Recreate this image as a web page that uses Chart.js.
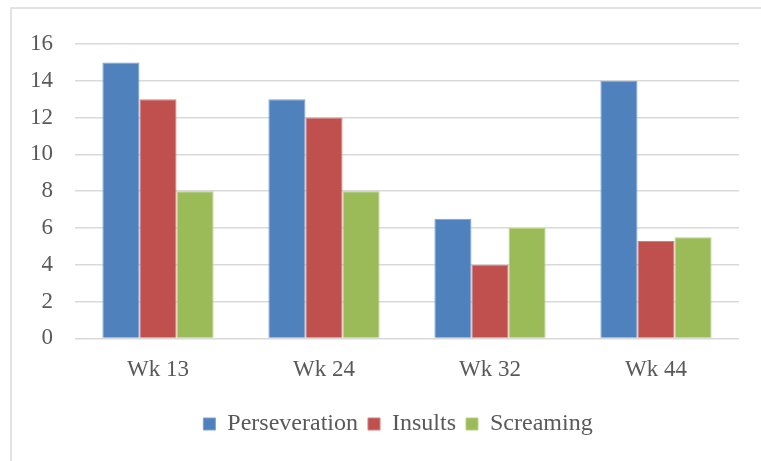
<!DOCTYPE html>
<html>
<head>
<meta charset="utf-8">
<script src="https://cdn.jsdelivr.net/npm/chart.js@4.4.0/dist/chart.umd.min.js"></script>
<style>
  html, body { margin: 0; padding: 0; background: #fff; }
  #wrap { width: 761px; height: 461px; }
</style>
</head>
<body>
<div id="wrap"><canvas id="myChart" width="761" height="461"></canvas></div>
<script>
var weeks = ['Wk 13', 'Wk 24', 'Wk 32', 'Wk 44'];
var perseveration = [15, 13, 6.5, 14];
var insults = [13, 12, 4, 5.3];
var screaming = [8, 8, 6, 5.5];
var yTicks = [0, 2, 4, 6, 8, 10, 12, 14, 16];

// light frame round the chart, like the Excel chart area
var frame = {
  id: 'frame',
  beforeDraw: function (chart) {
    var ctx = chart.ctx;
    ctx.save();
    ctx.strokeStyle = '#d9d9d9';
    ctx.lineWidth = 1.5;
    ctx.strokeRect(11, 8, 800, 500);
    ctx.restore();
  },
  // centre the legend under the plot instead of the whole canvas
  afterLayout: function (chart) {
    chart.legend.left = 57;
  }
};

Chart.defaults.font.family = "'Liberation Serif', 'Times New Roman', serif";
Chart.defaults.font.size = 23;
Chart.defaults.color = '#595959';

new Chart('myChart', {
  type: 'bar',
  data: {
    labels: weeks,
    datasets: [
      { label: 'Perseveration', data: perseveration, backgroundColor: '#4f81bd', borderColor: '#7da1d4', borderWidth: 1 },
      { label: 'Insults', data: insults, backgroundColor: '#c0504d', borderColor: '#d47e7c', borderWidth: 1 },
      { label: 'Screaming', data: screaming, backgroundColor: '#9bbb59', borderColor: '#b9d386', borderWidth: 1 }
    ]
  },
  options: {
    responsive: false,
    animation: false,
    layout: { padding: { left: 0, right: 22, top: 44, bottom: 15 } },
    datasets: { bar: { categoryPercentage: 0.67, barPercentage: 1 } },
    plugins: {
      legend: {
        position: 'bottom',
        labels: { boxWidth: 12, boxHeight: 12, padding: 10, font: { size: 24 } }
      },
      tooltip: { enabled: false }
    },
    scales: {
      x: {
        grid: { display: false, drawTicks: false },
        border: { display: false },
        ticks: { padding: 18 }
      },
      y: {
        min: 0,
        max: 16,
        afterFit: function (scale) { scale.width = 75; },
        afterBuildTicks: function (scale) { scale.ticks = yTicks.map(function (v) { return { value: v }; }); },
        grid: { color: '#d9d9d9', lineWidth: 1.5, drawTicks: false },
        border: { display: false },
        ticks: { padding: 22 }
      }
    }
  },
  plugins: [frame]
});
</script>
</body>
</html>
